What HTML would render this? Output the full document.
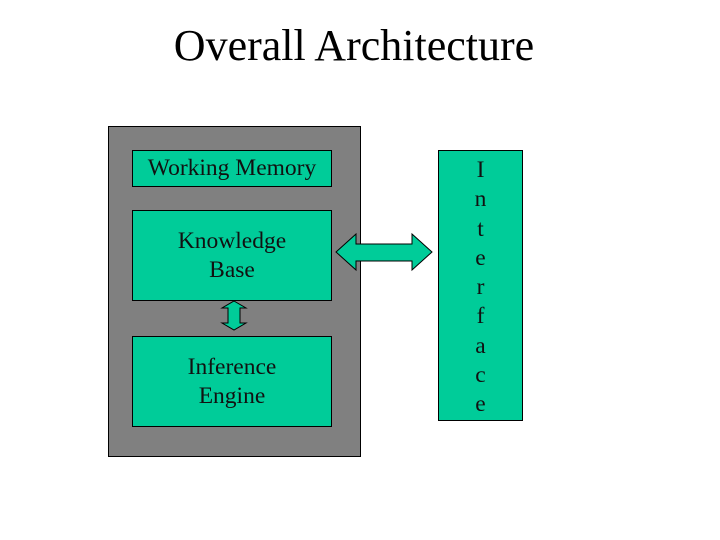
<!DOCTYPE html>
<html><head><style>
body{margin:0;width:720px;height:540px;background:#fff;position:relative;overflow:hidden;font-family:"Liberation Serif",serif;}
.t{position:absolute;left:0;width:708px;top:20px;text-align:center;font-size:44px;color:#000;}
.b{position:absolute;background:#00CC99;border:1px solid #000;box-sizing:border-box;display:flex;align-items:center;justify-content:center;text-align:center;font-size:23.5px;line-height:29px;color:#111;}
</style></head><body>
<div class="t">Overall Architecture</div>
<div style="position:absolute;left:108px;top:126px;width:253px;height:331px;background:#808080;border:1px solid #000;box-sizing:border-box"></div>
<div class="b" style="left:132px;top:150px;width:200px;height:37px">Working Memory</div>
<div class="b" style="left:132px;top:210px;width:200px;height:91px">Knowledge<br>Base</div>
<div class="b" style="left:132px;top:336px;width:200px;height:91px">Inference<br>Engine</div>
<div class="b" style="left:438px;top:150px;width:85px;height:271px;align-items:flex-start;padding-top:5px;line-height:29.3px">I<br>n<br>t<br>e<br>r<br>f<br>a<br>c<br>e</div>
<svg width="720" height="540" style="position:absolute;left:0;top:0">
<polygon points="336,252 356,234 356,244 412,244 412,234 432,252 412,270 412,261 356,261 356,270" fill="#00CC99" stroke="#000" stroke-width="1"/>
<polygon points="234,301 246,308 240,308 240,323 246,323 234,330 222,323 228,323 228,308 222,308" fill="#00CC99" stroke="#000" stroke-width="1"/>
</svg>
</body></html>
